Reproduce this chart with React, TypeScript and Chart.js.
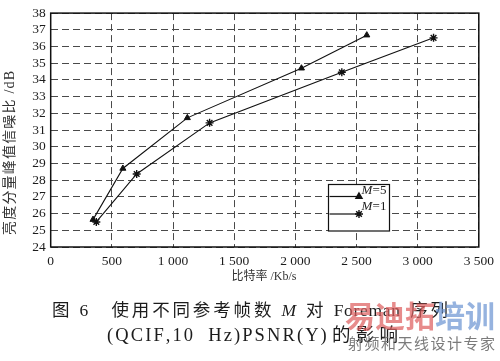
import { useEffect, useRef } from 'react';
import { Chart, registerables } from 'chart.js';
import { drawPoint } from 'chart.js/helpers';

Chart.register(...registerables);

// ---- data ----
const seriesNames = ['M=5', 'M=1'];
const m5Rate = [346, 590, 1117, 2050, 2584];
const m5Psnr = [25.64, 28.7, 31.73, 34.7, 36.68];
const m1Rate = [373, 703, 1299, 2380, 3130];
const m1Psnr = [25.5, 28.37, 31.43, 34.46, 36.52];
const xTickValues = [0, 500, 1000, 1500, 2000, 2500, 3000, 3500];
const xTickLabels = ['0', '500', '1 000', '1 500', '2 000', '2 500', '3 000', '3 500'];
const yTickLabels = ['24', '25', '26', '27', '28', '29', '30', '31', '32', '33', '34', '35', '36', '37', '38'];
const yTitle = '亮度分量峰值信噪比 /dB';
const xTitle = '比特率 /Kb/s';
const captionLine1 = ['图 6　使用不同参考帧数 ', 'M', ' 对 Foreman 序列'];
const captionLine2 = '(QCIF,10 Hz)PSNR(Y)的影响';
const watermarkMain = ['易迪拓', '培训'];
const watermarkSub = '射频和天线设计专家';

const SERIF = "'Liberation Serif', 'DejaVu Serif', serif";
const MIXED = "'Liberation Serif', 'Noto Sans CJK SC', serif";
const CJK = "'Noto Sans CJK SC', sans-serif";
const INK = '#1c1c1c';

type Run = { text: string; font: string; color?: string };

const isAsciiInk = (c: string) => c.charCodeAt(0) < 128 && c !== ' ';

// draws runs left-aligned at `left`; if width given, extra space is spread over gaps
// (gaps inside Latin words get `asciiWeight` of the share)
function drawRuns(
  ctx: CanvasRenderingContext2D,
  runs: Run[],
  left: number,
  cy: number,
  width: number | null,
  asciiWeight = 0,
  center = false,
) {
  const items: { ch: string; font: string; color?: string; w: number }[] = [];
  for (const r of runs) {
    ctx.font = r.font;
    for (const ch of Array.from(r.text)) {
      items.push({ ch, font: r.font, color: r.color, w: ctx.measureText(ch).width });
    }
  }
  let total = 0;
  let gaps = 0;
  const weights: number[] = [];
  for (let i = 0; i < items.length; i++) {
    total += items[i].w;
    if (i < items.length - 1) {
      const w = isAsciiInk(items[i].ch) && isAsciiInk(items[i + 1].ch) ? asciiWeight : 1;
      weights.push(w);
      gaps += w;
    }
  }
  const spacing = width == null ? 0 : Math.max(0, (width - total) / Math.max(1e-6, gaps));
  let x = center ? left - total / 2 : left;
  ctx.textBaseline = 'middle';
  ctx.textAlign = 'left';
  items.forEach((it, i) => {
    ctx.font = it.font;
    if (it.color) ctx.fillStyle = it.color;
    ctx.fillText(it.ch, x, cy);
    x += it.w + (weights[i] ?? 0) * spacing;
  });
}

const decorPlugin = {
  id: 'decor',
  afterDraw(chart: any) {
    const ctx: CanvasRenderingContext2D = chart.ctx;
    const a = chart.chartArea;
    ctx.save();
    // plot frame
    ctx.strokeStyle = '#111';
    ctx.lineWidth = 1.5;
    ctx.setLineDash([]);
    ctx.strokeRect(a.left, a.top, a.right - a.left, a.bottom - a.top);

    // legend
    const lx = 328.5, ly = 184.5, lw = 61, lh = 46.5;
    ctx.fillStyle = '#fff';
    ctx.fillRect(lx, ly, lw, lh);
    ctx.lineWidth = 1.2;
    ctx.strokeStyle = '#111';
    ctx.strokeRect(lx, ly, lw, lh);
    const rows = [
      { y: 196.5, ty: 191, style: 'triangle', r: 3.5, name: seriesNames[0] },
      { y: 214, ty: 206.5, style: 'star', r: 4, name: seriesNames[1] },
    ];
    for (const row of rows) {
      ctx.strokeStyle = '#111';
      ctx.lineWidth = 1.2;
      ctx.beginPath();
      ctx.moveTo(lx + 1, row.y);
      ctx.lineTo(359, row.y);
      ctx.stroke();
      ctx.fillStyle = '#111';
      ctx.lineWidth = 1.4;
      drawPoint(ctx, { pointStyle: row.style as any, radius: row.r, borderWidth: 1.4 } as any, 359, row.y);
      ctx.fillStyle = INK;
      drawRuns(ctx, [
        { text: row.name.slice(0, 1), font: `italic 13px ${SERIF}` },
        { text: row.name.slice(1), font: `13px ${SERIF}` },
      ], 361.5, row.ty, 25, 1);
    }

    // axis titles
    ctx.fillStyle = '#333';
    ctx.save();
    ctx.translate(10, 153);
    ctx.rotate(-Math.PI / 2);
    drawRuns(ctx, [{ text: yTitle, font: `14px ${MIXED}` }], -82, 0, 164, 1);
    ctx.restore();
    ctx.fillStyle = '#333';
    drawRuns(ctx, [{ text: xTitle, font: `12px ${MIXED}` }], 264, 277, null, 0, true);

    // caption
    ctx.fillStyle = INK;
    drawRuns(ctx, [
      { text: captionLine1[0], font: `17.5px ${MIXED}` },
      { text: captionLine1[1], font: `italic 17.5px ${SERIF}` },
      { text: captionLine1[2], font: `17.5px ${MIXED}` },
    ], 52, 311, 396, 0.25);
    drawRuns(ctx, [{ text: captionLine2, font: `18.5px ${MIXED}` }], 107, 336, 291, 0.4);

    // watermark
    drawRuns(ctx, [
      { text: watermarkMain[0], font: `bold 30px ${CJK}`, color: 'rgba(222,95,95,0.72)' },
      { text: watermarkMain[1], font: `bold 30px ${CJK}`, color: 'rgba(110,150,210,0.72)' },
    ], 345, 316, 148, 1);
    drawRuns(ctx, [{ text: watermarkSub, font: `15px ${CJK}`, color: 'rgba(100,100,100,0.85)' }], 348, 343, 147, 1);
    ctx.restore();
  },
};

export default function App() {
  const ref = useRef<HTMLCanvasElement | null>(null);
  useEffect(() => {
    if (!ref.current) return;
    const chart = new Chart(ref.current, {
      type: 'line',
      data: {
        datasets: [
          {
            label: seriesNames[0],
            data: m5Rate.map((x, i) => ({ x, y: m5Psnr[i] })),
            borderColor: '#111',
            borderWidth: 1.1,
            pointStyle: 'triangle',
            pointRadius: 3.5,
            pointBackgroundColor: '#111',
            pointBorderColor: '#111',
            pointBorderWidth: 1,
            tension: 0,
          },
          {
            label: seriesNames[1],
            data: m1Rate.map((x, i) => ({ x, y: m1Psnr[i] })),
            borderColor: '#111',
            borderWidth: 1.1,
            pointStyle: 'star',
            pointRadius: 4,
            pointBackgroundColor: '#111',
            pointBorderColor: '#111',
            pointBorderWidth: 1.4,
            tension: 0,
          },
        ],
      },
      options: {
        animation: false,
        responsive: false,
        devicePixelRatio: 1,
        layout: { padding: { top: 11, right: 18, left: 0, bottom: 0 } },
        plugins: { legend: { display: false }, tooltip: { enabled: false } },
        scales: {
          x: {
            type: 'linear',
            min: 0,
            max: 3500,
            afterBuildTicks: (s: any) => { s.ticks = xTickValues.map((v) => ({ value: v })); },
            afterFit: (s: any) => { s.height = 114; },
            ticks: {
              callback: (v: any) => xTickLabels[xTickValues.indexOf(Number(v))] ?? '',
              font: { family: SERIF, size: 13.5 },
              color: INK,
              padding: 6,
              maxRotation: 0,
              autoSkip: false,
            },
            grid: { color: '#4a4a4a', lineWidth: 1, drawTicks: false },
            border: { display: false, dash: [7, 4] },
          },
          y: {
            type: 'linear',
            min: 24,
            max: 38,
            afterBuildTicks: (s: any) => { s.ticks = yTickLabels.map((t) => ({ value: Number(t) })); },
            afterFit: (s: any) => { s.width = 50.7; },
            ticks: {
              callback: (v: any) => yTickLabels[yTickLabels.indexOf(String(v))] ?? '',
              font: { family: SERIF, size: 13.5 },
              color: INK,
              padding: 5,
              autoSkip: false,
            },
            grid: { color: '#4a4a4a', lineWidth: 1, drawTicks: false },
            border: { display: false, dash: [7, 4] },
          },
        },
      },
      plugins: [decorPlugin],
    } as any);
    return () => chart.destroy();
  }, []);
  return (
    <div style={{ position: 'fixed', left: 0, top: 0, width: 500, height: 361, background: '#fff' }}>
      <canvas ref={ref} width={500} height={361} style={{ width: 500, height: 361, display: 'block' }} />
    </div>
  );
}
